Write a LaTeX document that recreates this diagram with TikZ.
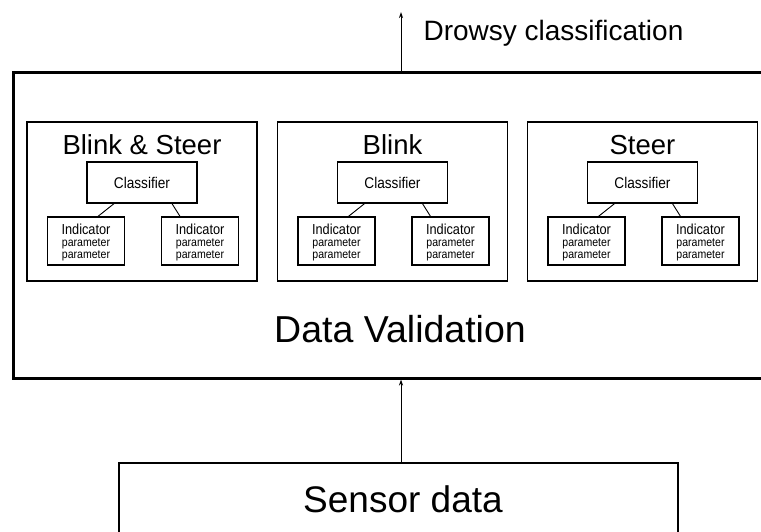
\documentclass[tikz,border=0pt]{standalone}
\usepackage{fontspec}
\setmainfont{Liberation Sans}
\newfontfamily\condf[FakeStretch=0.88]{Liberation Sans}
\usetikzlibrary{arrows.meta}
\begin{document}
\begin{tikzpicture}[x=1pt,y=-1pt,
  panel/.style={draw,line width=1.3pt,minimum width=230pt,minimum height=159pt,inner sep=0pt},
  clsbox/.style={draw,line width=1.3pt,minimum width=110pt,minimum height=41pt,inner sep=0pt,font=\condf\fontsize{15.5}{16}\selectfont},
  indbox/.style={draw,line width=1.3pt,minimum width=77pt,minimum height=48pt,inner sep=0pt},
  indtxt/.style={inner sep=0pt,font=\condf\fontsize{14.5}{15}\selectfont},
  partxt/.style={inner sep=0pt,font=\condf\fontsize{12}{12}\selectfont},
  ttl/.style={font=\fontsize{27.5}{30}\selectfont},
  link/.style={line width=0.9pt},
  arr/.style={line width=1pt,-{Stealth[length=6pt,width=4pt]}}
]
\useasboundingbox (0,0) rectangle (761,531);
\node[draw,line width=3pt,minimum width=760pt,minimum height=306pt,inner sep=0pt] (outer) at (393,225) {};
\node[draw,line width=1.3pt,minimum width=559pt,minimum height=90pt,inner sep=0pt] (sensor) at (398.5,508) {};
\node[font=\fontsize{37}{40}\selectfont] (stxt) at (403,499) {Sensor data};
\node[font=\fontsize{37.5}{40}\selectfont] (dv) at (400,329) {Data Validation};
\coordinate (top) at (401,12);
\node[anchor=west,font=\fontsize{28}{30}\selectfont] (drowsy) at (420,33) {Drowsy classification};
\draw[arr] (outer.north -| top) -- (top);
\draw[arr] (sensor.north -| top) -- (outer.south -| top);
\foreach \n/\cx/\t in {a/142/{Blink \& Steer},b/392.5/Blink,c/642.5/Steer}{
  \node[panel] (p\n) at (\cx,201.5) {};
  \node[ttl] (t\n) at (\cx,145) {\t};
  \node[clsbox] (c\n) at (\cx,182.5) {Classifier};
  \node[indbox] (l\n) at (\cx-56,241) {};
  \node[indbox] (r\n) at (\cx+58,241) {};
  \foreach \b in {l,r}{
    \node[indtxt] at ([yshift=12pt]\b\n.center) {Indicator};
    \node[partxt] at ([yshift=-3pt]\b\n.center) {parameter};
    \node[partxt] at ([yshift=-15pt]\b\n.center) {parameter};
  }
  \draw[link] ([xshift=-28pt]c\n.south) -- ([xshift=12pt]l\n.north);
  \draw[link] ([xshift=30pt]c\n.south) -- ([xshift=-20pt]r\n.north);
}
\end{tikzpicture}
\end{document}
